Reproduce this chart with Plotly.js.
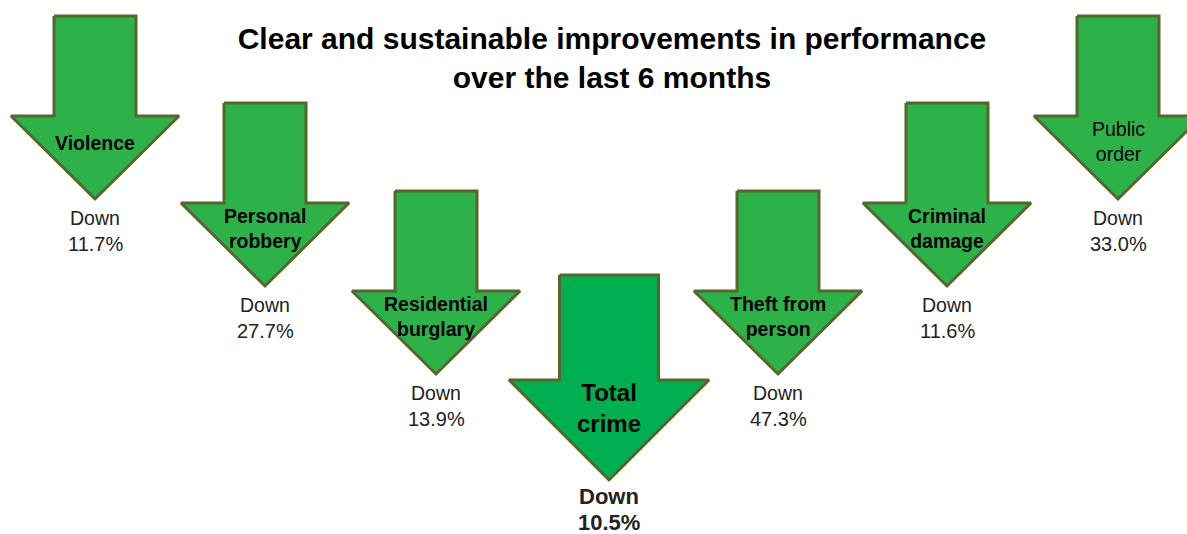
<!DOCTYPE html>
<html>
<head>
<meta charset="utf-8">
<script src="https://cdn.plot.ly/plotly-3.0.1.min.js"></script>
<style>html,body{margin:0;padding:0;background:#fff;}#chart{width:1187px;height:534px;}</style>
</head>
<body>
<div id="chart"></div>
<script>
// ---- data ----
const categories = ["Violence", "Personal<br>robbery", "Residential<br>burglary", "Total<br>crime", "Theft from<br>person", "Criminal<br>damage", "Public<br>order"];
const changeDirection = ["Down", "Down", "Down", "Down", "Down", "Down", "Down"];
const changePct = [11.7, 27.7, 13.9, 10.5, 47.3, 11.6, 33.0];

// ---- layout (positions of the arrow glyphs, in pixel space) ----
const centerX = [95, 265, 436, 609, 778, 947, 1118];
const topY = [16, 103, 191, 275, 191, 103, 16];
const isTotal = [false, false, false, true, false, false, false];

const traces = [];
const annotations = [];
const FONT = "Liberation Sans, Arial, sans-serif";

for (let i = 0; i < categories.length; i++) {
  const cx = centerX[i], t = topY[i], big = isTotal[i];
  const sw = big ? 49.5 : 41;      // shaft half width
  const hw = big ? 100 : 84;       // head half width
  const sl = big ? 105 : 100;      // shaft length
  const hh = big ? 100 : 83;       // head height
  const xs = [cx - sw, cx + sw, cx + sw, cx + hw, cx, cx - hw, cx - sw, cx - sw];
  const ys = [t, t, t + sl, t + sl, t + sl + hh, t + sl, t + sl, t];
  traces.push({
    type: "scatter", mode: "lines", x: xs, y: ys, fill: "toself",
    fillcolor: big ? "#00b050" : "#2db24a",
    line: {color: "#56672c", width: 3}, hoverinfo: "skip", showlegend: false
  });
  const twoLines = categories[i].indexOf("<br>") >= 0;
  let labelY;
  if (big) labelY = t + sl + 28;
  else labelY = t + sl + (twoLines ? 25 : 27);
  annotations.push({
    x: cx, y: labelY, xref: "x", yref: "y",
    text: (i === 6) ? categories[i] : "<b>" + categories[i] + "</b>",
    showarrow: false, xanchor: "center", yanchor: "middle",
    font: {family: FONT, size: big ? 24 : 19.5, color: "#000"}
  });
  const tipY = t + sl + hh;
  const pctTxt = changePct[i].toFixed(1) + "%";
  annotations.push({
    x: cx, y: tipY + (big ? 16 : 19), xref: "x", yref: "y",
    text: big ? "<b>" + changeDirection[i] + "</b>" : changeDirection[i],
    showarrow: false, xanchor: "center", yanchor: "middle",
    font: {family: FONT, size: big ? 22 : 19.5, color: "#222"}
  });
  annotations.push({
    x: cx, y: tipY + (big ? 42 : 45), xref: "x", yref: "y",
    text: big ? "<b>" + pctTxt + "</b>" : pctTxt,
    showarrow: false, xanchor: "center", yanchor: "middle", borderpad: 0,
    font: {family: FONT, size: big ? 22 : 20, color: "#222"}
  });
}

const layout = {
  width: 1187, height: 534,
  margin: {l: 0, r: 0, t: 0, b: 0},
  paper_bgcolor: "#fff", plot_bgcolor: "#fff",
  title: {
    text: "<b>Clear and sustainable improvements in performance<br>over the last 6 months</b>",
    x: 612 / 1187, xanchor: "center", y: 1 - 49 / 534, yanchor: "middle",
    font: {family: FONT, size: 30, color: "#000"}
  },
  xaxis: {range: [0, 1187], visible: false, fixedrange: true},
  yaxis: {range: [534, 0], visible: false, fixedrange: true},
  annotations: annotations,
  showlegend: false
};

Plotly.newPlot("chart", traces, layout, {displayModeBar: false, staticPlot: true});
</script>
</body>
</html>
